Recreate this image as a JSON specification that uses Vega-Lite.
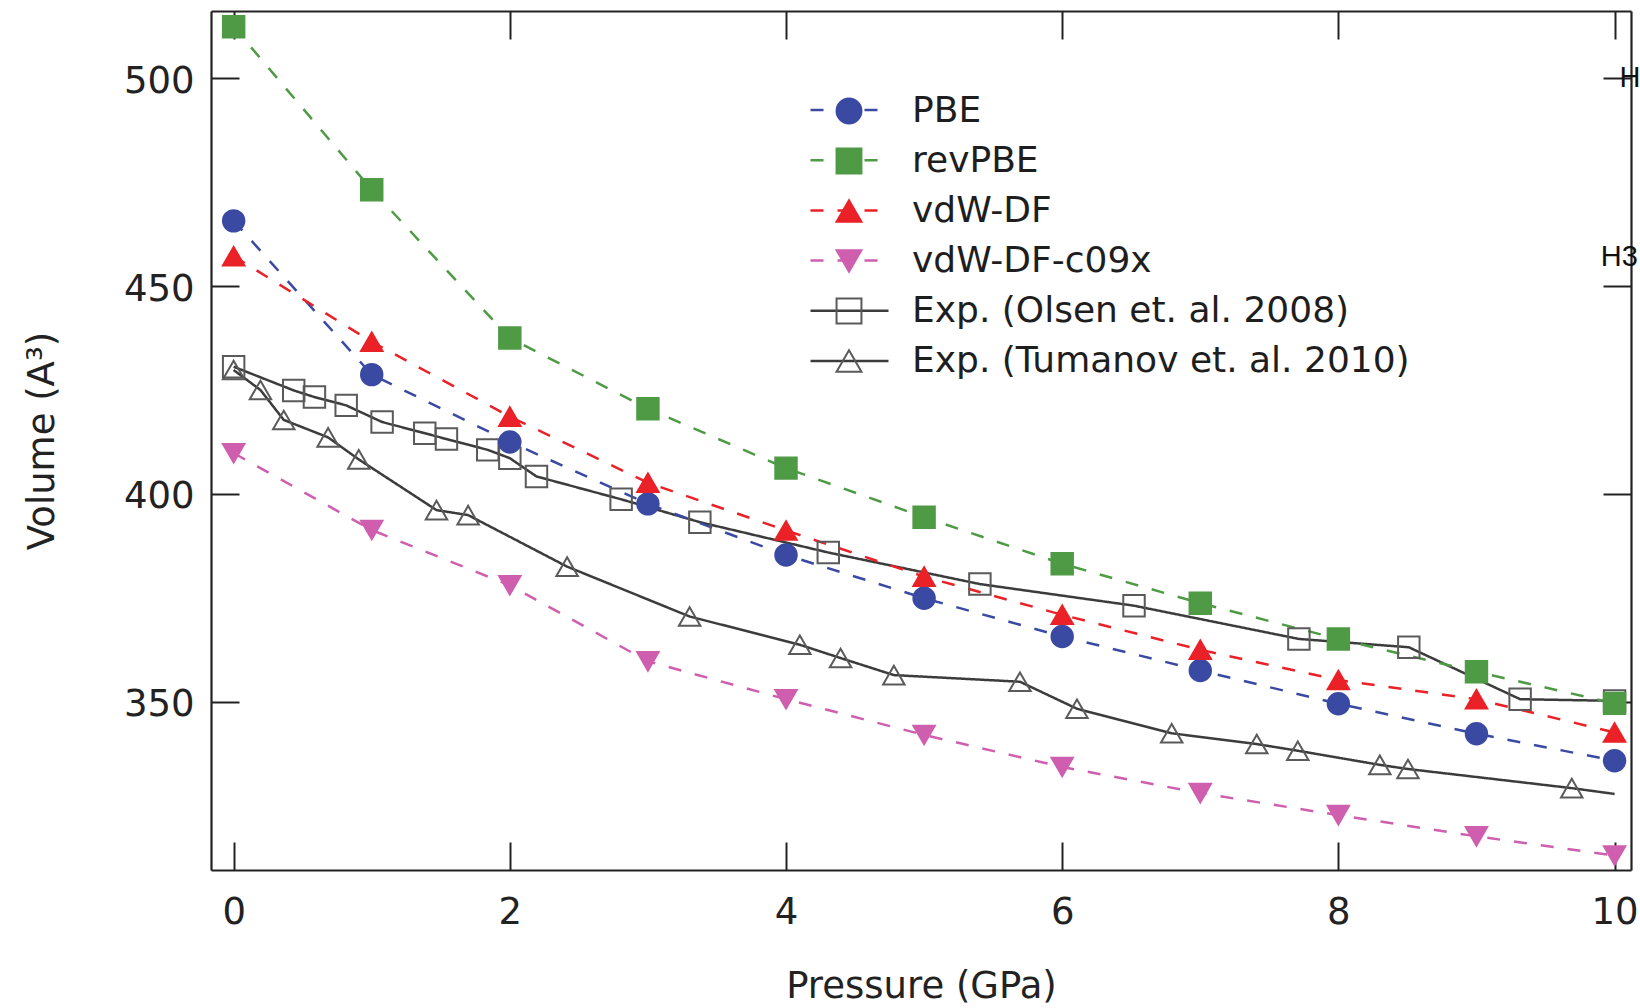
{
  "$schema": "https://vega.github.io/schema/vega-lite/v6.json",
  "width": 1420,
  "height": 859,
  "autosize": {"type": "none"},
  "padding": {"left": 211, "top": 11, "right": 9, "bottom": 138},
  "background": "white",
  "view": {"stroke": null},
  "config": {"font": "DejaVu Sans", "axis": {"grid": false}},
  "datasets": {
    "order": [
      {"series": "PBE", "ord": 1},
      {"series": "revPBE", "ord": 2},
      {"series": "vdW-DF", "ord": 3},
      {"series": "vdW-DF-c09x", "ord": 4},
      {"series": "Exp. (Olsen et. al. 2008)", "ord": 5},
      {"series": "Exp. (Tumanov et. al.  2010)", "ord": 6}
    ],
    "vol": [
      {"series": "Exp. (Olsen et. al. 2008)", "kind": "exp", "p": 0, "v": 430.6},
      {"series": "Exp. (Olsen et. al. 2008)", "kind": "exp", "p": 0.435, "v": 424.9},
      {"series": "Exp. (Olsen et. al. 2008)", "kind": "exp", "p": 0.585, "v": 423.3},
      {"series": "Exp. (Olsen et. al. 2008)", "kind": "exp", "p": 0.815, "v": 421.3},
      {"series": "Exp. (Olsen et. al. 2008)", "kind": "exp", "p": 1.075, "v": 417.3},
      {"series": "Exp. (Olsen et. al. 2008)", "kind": "exp", "p": 1.384, "v": 414.6},
      {"series": "Exp. (Olsen et. al. 2008)", "kind": "exp", "p": 1.541, "v": 413.2},
      {"series": "Exp. (Olsen et. al. 2008)", "kind": "exp", "p": 1.84, "v": 410.6},
      {"series": "Exp. (Olsen et. al. 2008)", "kind": "exp", "p": 2.0, "v": 408.6},
      {"series": "Exp. (Olsen et. al. 2008)", "kind": "exp", "p": 2.193, "v": 404.2},
      {"series": "Exp. (Olsen et. al. 2008)", "kind": "exp", "p": 2.806, "v": 398.7},
      {"series": "Exp. (Olsen et. al. 2008)", "kind": "exp", "p": 3.376, "v": 393.2},
      {"series": "Exp. (Olsen et. al. 2008)", "kind": "exp", "p": 4.306, "v": 385.9},
      {"series": "Exp. (Olsen et. al. 2008)", "kind": "exp", "p": 5.404, "v": 378.3},
      {"series": "Exp. (Olsen et. al. 2008)", "kind": "exp", "p": 6.52, "v": 373.1},
      {"series": "Exp. (Olsen et. al. 2008)", "kind": "exp", "p": 7.714, "v": 365.1},
      {"series": "Exp. (Olsen et. al. 2008)", "kind": "exp", "p": 8.51, "v": 363.1},
      {"series": "Exp. (Olsen et. al. 2008)", "kind": "exp", "p": 9.316, "v": 350.6},
      {"series": "Exp. (Olsen et. al. 2008)", "kind": "exp", "p": 10.0, "v": 350.2},
      {"series": "Exp. (Tumanov et. al.  2010)", "kind": "exp", "p": 0, "v": 429.8},
      {"series": "Exp. (Tumanov et. al.  2010)", "kind": "exp", "p": 0.194, "v": 425.0},
      {"series": "Exp. (Tumanov et. al.  2010)", "kind": "exp", "p": 0.363, "v": 417.8},
      {"series": "Exp. (Tumanov et. al.  2010)", "kind": "exp", "p": 0.684, "v": 413.6},
      {"series": "Exp. (Tumanov et. al.  2010)", "kind": "exp", "p": 0.906, "v": 408.3},
      {"series": "Exp. (Tumanov et. al.  2010)", "kind": "exp", "p": 1.469, "v": 396.1},
      {"series": "Exp. (Tumanov et. al.  2010)", "kind": "exp", "p": 1.698, "v": 394.9},
      {"series": "Exp. (Tumanov et. al.  2010)", "kind": "exp", "p": 2.415, "v": 382.5},
      {"series": "Exp. (Tumanov et. al.  2010)", "kind": "exp", "p": 3.302, "v": 370.5},
      {"series": "Exp. (Tumanov et. al.  2010)", "kind": "exp", "p": 4.10, "v": 363.7},
      {"series": "Exp. (Tumanov et. al.  2010)", "kind": "exp", "p": 4.395, "v": 360.5},
      {"series": "Exp. (Tumanov et. al.  2010)", "kind": "exp", "p": 4.781, "v": 356.4},
      {"series": "Exp. (Tumanov et. al.  2010)", "kind": "exp", "p": 5.694, "v": 354.8},
      {"series": "Exp. (Tumanov et. al.  2010)", "kind": "exp", "p": 6.107, "v": 348.3},
      {"series": "Exp. (Tumanov et. al.  2010)", "kind": "exp", "p": 6.793, "v": 342.4},
      {"series": "Exp. (Tumanov et. al.  2010)", "kind": "exp", "p": 7.409, "v": 339.8},
      {"series": "Exp. (Tumanov et. al.  2010)", "kind": "exp", "p": 7.706, "v": 338.2},
      {"series": "Exp. (Tumanov et. al.  2010)", "kind": "exp", "p": 8.30, "v": 334.8},
      {"series": "Exp. (Tumanov et. al.  2010)", "kind": "exp", "p": 8.504, "v": 333.8},
      {"series": "Exp. (Tumanov et. al.  2010)", "kind": "exp", "p": 9.69, "v": 329.2},
      {"series": "Exp. (Tumanov et. al.  2010)", "kind": "fit-end", "p": 10.0, "v": 327.8},
      {"series": "PBE", "kind": "calc", "p": 0, "v": 465.7},
      {"series": "PBE", "kind": "calc", "p": 1, "v": 428.7},
      {"series": "PBE", "kind": "calc", "p": 2, "v": 412.5},
      {"series": "PBE", "kind": "calc", "p": 3, "v": 397.6},
      {"series": "PBE", "kind": "calc", "p": 4, "v": 385.3},
      {"series": "PBE", "kind": "calc", "p": 5, "v": 374.9},
      {"series": "PBE", "kind": "calc", "p": 6, "v": 365.7},
      {"series": "PBE", "kind": "calc", "p": 7, "v": 357.5},
      {"series": "PBE", "kind": "calc", "p": 8, "v": 349.5},
      {"series": "PBE", "kind": "calc", "p": 9, "v": 342.3},
      {"series": "PBE", "kind": "calc", "p": 10, "v": 335.8},
      {"series": "revPBE", "kind": "calc", "p": 0, "v": 512.4},
      {"series": "revPBE", "kind": "calc", "p": 1, "v": 473.2},
      {"series": "revPBE", "kind": "calc", "p": 2, "v": 437.5},
      {"series": "revPBE", "kind": "calc", "p": 3, "v": 420.5},
      {"series": "revPBE", "kind": "calc", "p": 4, "v": 406.2},
      {"series": "revPBE", "kind": "calc", "p": 5, "v": 394.4},
      {"series": "revPBE", "kind": "calc", "p": 6, "v": 383.2},
      {"series": "revPBE", "kind": "calc", "p": 7, "v": 373.7},
      {"series": "revPBE", "kind": "calc", "p": 8, "v": 365.1},
      {"series": "revPBE", "kind": "calc", "p": 9, "v": 357.2},
      {"series": "revPBE", "kind": "calc", "p": 10, "v": 349.6},
      {"series": "vdW-DF", "kind": "calc", "p": 0, "v": 457.2},
      {"series": "vdW-DF", "kind": "calc", "p": 1, "v": 436.6},
      {"series": "vdW-DF", "kind": "calc", "p": 2, "v": 418.6},
      {"series": "vdW-DF", "kind": "calc", "p": 3, "v": 402.7},
      {"series": "vdW-DF", "kind": "calc", "p": 4, "v": 391.2},
      {"series": "vdW-DF", "kind": "calc", "p": 5, "v": 380.1},
      {"series": "vdW-DF", "kind": "calc", "p": 6, "v": 370.9},
      {"series": "vdW-DF", "kind": "calc", "p": 7, "v": 362.5},
      {"series": "vdW-DF", "kind": "calc", "p": 8, "v": 355.2},
      {"series": "vdW-DF", "kind": "calc", "p": 9, "v": 350.6},
      {"series": "vdW-DF", "kind": "calc", "p": 10, "v": 342.6},
      {"series": "vdW-DF-c09x", "kind": "calc", "p": 0, "v": 409.8},
      {"series": "vdW-DF-c09x", "kind": "calc", "p": 1, "v": 391.3},
      {"series": "vdW-DF-c09x", "kind": "calc", "p": 2, "v": 378.0},
      {"series": "vdW-DF-c09x", "kind": "calc", "p": 3, "v": 359.7},
      {"series": "vdW-DF-c09x", "kind": "calc", "p": 4, "v": 350.6},
      {"series": "vdW-DF-c09x", "kind": "calc", "p": 5, "v": 342.0},
      {"series": "vdW-DF-c09x", "kind": "calc", "p": 6, "v": 334.3},
      {"series": "vdW-DF-c09x", "kind": "calc", "p": 7, "v": 328.0},
      {"series": "vdW-DF-c09x", "kind": "calc", "p": 8, "v": 322.7},
      {"series": "vdW-DF-c09x", "kind": "calc", "p": 9, "v": 317.6},
      {"series": "vdW-DF-c09x", "kind": "calc", "p": 10, "v": 313.0}
    ],
    "notes": [
      {"p": 10.035, "v": 500, "t": "H"},
      {"p": 9.9, "v": 456.9, "t": "H3"}
    ]
  },
  "resolve": {"axis": {"x": "independent", "y": "independent"}},
  "layer": [
    {
      "data": {"name": "vol"},
      "transform": [
        {"lookup": "series", "from": {"data": {"name": "order"}, "key": "series", "fields": ["ord"]}}
      ],
      "mark": {"type": "line", "strokeWidth": 2.5},
      "encoding": {
        "x": {
          "field": "p", "type": "quantitative",
          "scale": {"domain": [-0.164, 10.119], "nice": false, "zero": false},
          "axis": {
            "orient": "bottom", "values": [0, 2, 4, 6, 8, 10], "format": "d",
            "tickSize": -28, "tickWidth": 2, "tickColor": "#222222",
            "domainColor": "#222222", "domainWidth": 2.2,
            "labelFont": "DejaVu Sans", "labelFontSize": 37, "labelColor": "#222222",
            "labelPadding": 52, "labelFlush": false, "labelOverlap": false,
            "title": "Pressure (GPa)", "titleFont": "DejaVu Sans", "titleFontSize": 37,
            "titleFontWeight": "normal", "titleColor": "#222222", "titlePadding": 38
          }
        },
        "y": {
          "field": "v", "type": "quantitative",
          "scale": {"domain": [309.5, 516.2], "nice": false, "zero": false},
          "axis": {
            "orient": "left", "values": [350, 400, 450, 500],
            "tickSize": -28, "tickWidth": 2, "tickColor": "#222222",
            "domainColor": "#222222", "domainWidth": 2.2,
            "labelFont": "DejaVu Sans", "labelFontSize": 37, "labelColor": "#222222",
            "labelPadding": 45, "labelOffset": 3, "labelOverlap": false,
            "title": "Volume (A³)", "titleFont": "DejaVu Sans", "titleFontSize": 37,
            "titleFontWeight": "normal", "titleColor": "#222222", "titlePadding": 62
          }
        },
        "color": {
          "field": "series", "type": "nominal",
          "sort": {"field": "ord", "op": "min"},
          "scale": {"range": ["#3a4aa3", "#4e9a45", "#ea2127", "#cf5fae", "#3c3c3c", "#3c3c3c"]},
          "legend": {
            "orient": "none", "legendX": 598, "legendY": 58.5, "title": null, "padding": 0,
            "symbolType": "stroke", "symbolSize": 6084, "symbolStrokeWidth": 2.5,
            "labelFont": "DejaVu Sans", "labelFontSize": 1, "labelOpacity": 0, "labelExpr": "''",
            "labelLimit": 1000, "rowPadding": 4.2
          }
        },
        "strokeDash": {
          "field": "series", "type": "nominal",
          "sort": {"field": "ord", "op": "min"},
          "scale": {"range": [[13, 14], [13, 14], [13, 14], [13, 14], [1, 0], [1, 0]]}
        }
      }
    },
    {
      "data": {"name": "vol"},
      "transform": [{"filter": "datum.kind !== 'fit-end'"}],
      "mark": {"type": "point", "filled": true, "strokeWidth": 2, "size": 460, "opacity": 1},
      "encoding": {
        "x": {
          "field": "p", "type": "quantitative",
          "axis": {
            "orient": "top", "values": [0, 2, 4, 6, 8, 10], "labels": false, "title": null,
            "tickSize": -28, "tickWidth": 2, "tickColor": "#222222",
            "domainColor": "#222222", "domainWidth": 2.2
          }
        },
        "y": {
          "field": "v", "type": "quantitative",
          "axis": {
            "orient": "right", "values": [350, 400, 450, 500], "labels": false, "title": null,
            "tickSize": -28, "tickWidth": 2, "tickColor": "#222222",
            "domainColor": "#222222", "domainWidth": 2.2
          }
        },
        "shape": {
          "field": "series", "type": "nominal",
          "scale": {
            "domain": ["PBE", "revPBE", "vdW-DF", "vdW-DF-c09x", "Exp. (Olsen et. al. 2008)", "Exp. (Tumanov et. al.  2010)"],
            "range": ["circle", "square", "triangle-up", "triangle-down", "square", "triangle-up"]
          },
          "legend": {
            "orient": "none", "legendX": 620, "legendY": 82, "title": null, "padding": 0,
            "symbolSize": 620, "symbolStrokeWidth": 2,
            "labelFont": "DejaVu Sans", "labelFontSize": 36, "labelColor": "#1e1e1e",
            "labelOffset": 45, "labelLimit": 1000, "rowPadding": 14
          }
        },
        "fill": {
          "field": "series", "type": "nominal",
          "scale": {
            "domain": ["PBE", "revPBE", "vdW-DF", "vdW-DF-c09x", "Exp. (Olsen et. al. 2008)", "Exp. (Tumanov et. al.  2010)"],
            "range": ["#3a4aa3", "#4e9a45", "#ea2127", "#cf5fae", "transparent", "transparent"]
          }
        },
        "stroke": {
          "field": "series", "type": "nominal",
          "scale": {
            "domain": ["PBE", "revPBE", "vdW-DF", "vdW-DF-c09x", "Exp. (Olsen et. al. 2008)", "Exp. (Tumanov et. al.  2010)"],
            "range": ["#3a4aa3", "#4e9a45", "#ea2127", "#cf5fae", "#5a5a5a", "#5a5a5a"]
          }
        }
      }
    },
    {
      "data": {"name": "notes"},
      "mark": {"type": "text", "align": "left", "baseline": "middle", "font": "Liberation Sans", "fontSize": 29, "color": "#111111"},
      "encoding": {
        "x": {"field": "p", "type": "quantitative", "axis": null},
        "y": {"field": "v", "type": "quantitative", "axis": null},
        "text": {"field": "t"}
      }
    }
  ]
}
